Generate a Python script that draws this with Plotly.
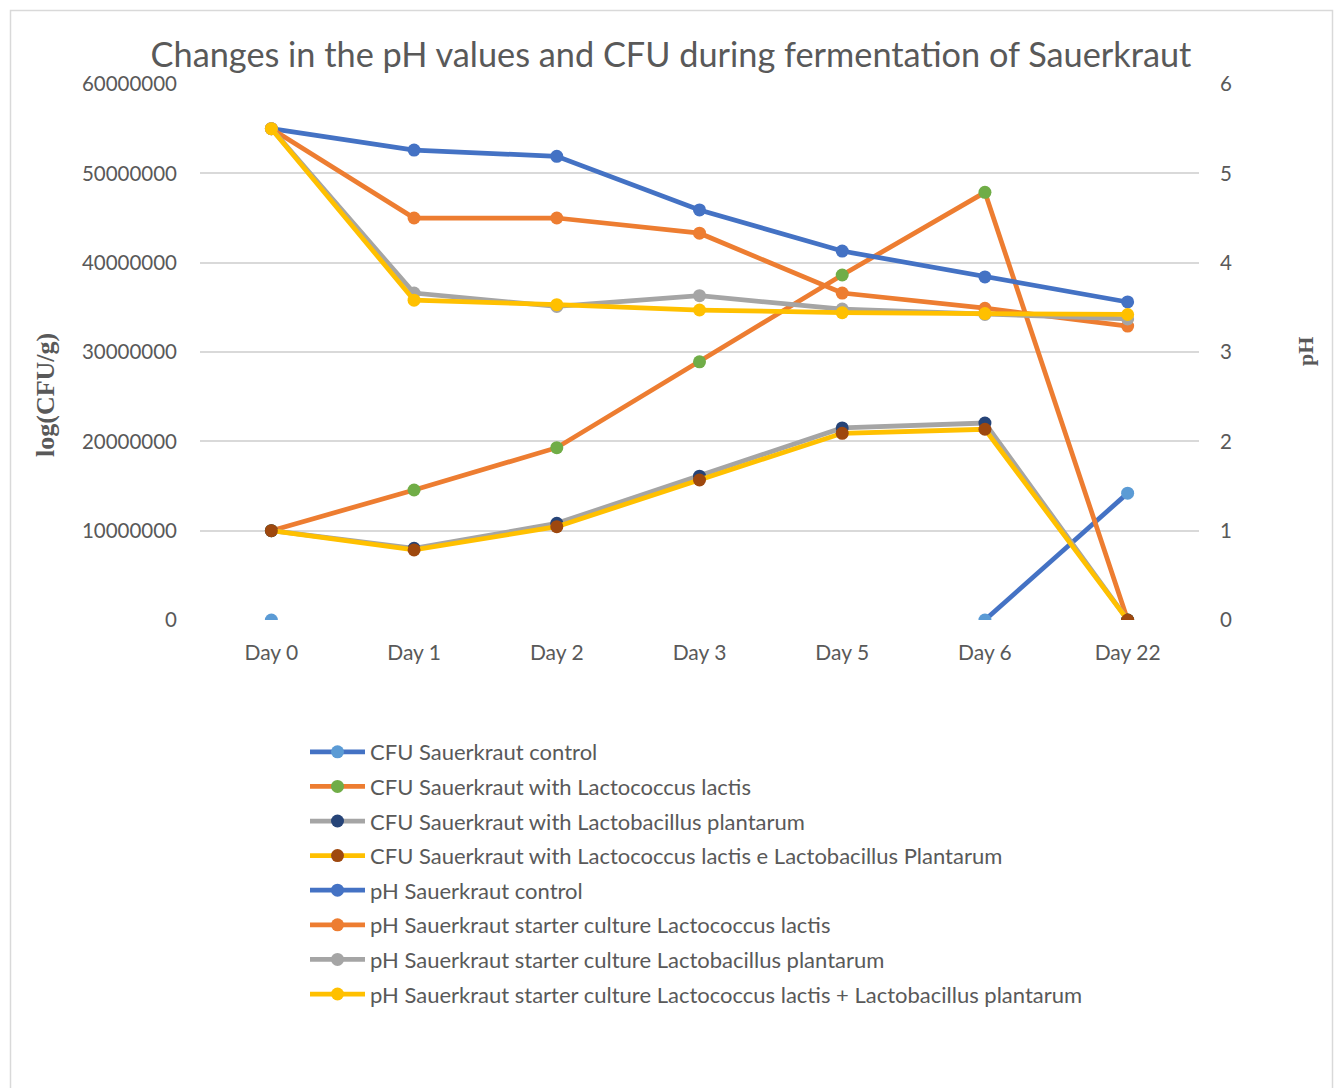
import plotly.graph_objects as go

# Sampling days
days = ["Day 0", "Day 1", "Day 2", "Day 3", "Day 5", "Day 6", "Day 22"]

# Colony forming units (left axis)
cfu_control = [0, None, None, None, None, 0, 14200000]
cfu_lactis = [10000000, 14550000, 19290000, 28900000, 38620000, 47870000, 0]
cfu_plantarum = [10000000, 8020000, 10820000, 16100000, 21500000, 22050000, 0]
cfu_mix = [10000000, 7840000, 10450000, 15670000, 20900000, 21350000, 0]

# pH readings (right axis)
ph_control = [5.5, 5.26, 5.19, 4.59, 4.13, 3.84, 3.56]
ph_lactis = [5.5, 4.5, 4.5, 4.33, 3.66, 3.49, 3.29]
ph_plantarum = [5.5, 3.66, 3.51, 3.63, 3.48, 3.42, 3.37]
ph_mix = [5.5, 3.58, 3.53, 3.47, 3.44, 3.43, 3.42]

cfu_ticks = [0, 10000000, 20000000, 30000000, 40000000, 50000000, 60000000]
ph_ticks = [0, 1, 2, 3, 4, 5, 6]

FONT = "Lato"
TEXT = "#595959"

series = [
    ("CFU Sauerkraut control", cfu_control, "y", "#4472C4", "#5B9BD5"),
    ("CFU Sauerkraut with Lactococcus lactis", cfu_lactis, "y", "#ED7D31", "#70AD47"),
    ("CFU Sauerkraut with Lactobacillus plantarum", cfu_plantarum, "y", "#A5A5A5", "#264478"),
    ("CFU Sauerkraut with Lactococcus lactis e Lactobacillus Plantarum", cfu_mix, "y", "#FFC000", "#9E480E"),
    ("pH Sauerkraut control", ph_control, "y2", "#4472C4", "#4472C4"),
    ("pH Sauerkraut starter culture Lactococcus lactis", ph_lactis, "y2", "#ED7D31", "#ED7D31"),
    ("pH Sauerkraut starter culture Lactobacillus plantarum", ph_plantarum, "y2", "#A5A5A5", "#A5A5A5"),
    ("pH Sauerkraut starter culture Lactococcus lactis + Lactobacillus plantarum", ph_mix, "y2", "#FFC000", "#FFC000"),
]

fig = go.Figure()
for i, (name, vals, axis, lc, mc) in enumerate(series):
    fig.add_trace(go.Scatter(
        x=days, y=vals, name=name, yaxis=axis, mode="lines+markers",
        line=dict(color=lc, width=4.75),
        marker=dict(color=mc, size=13, line=dict(width=0)),
        connectgaps=False, legendgroup=f"g{i}",
    ))

W, H = 1341, 1088
L, R, T, B = 200, 1199, 84, 620


def px_x(p):
    return (p - L) / (R - L)


def px_y(p):
    return (B - p) / (B - T)


fig.update_layout(
    width=W, height=H,
    margin=dict(l=L, r=W - R, t=T, b=H - B),
    paper_bgcolor="white", plot_bgcolor="white",
    font=dict(family=FONT, color=TEXT, size=21),
    title=dict(
        text="Changes in the pH values and CFU during fermentation of Sauerkraut",
        x=671 / W, xref="container", xanchor="center",
        y=1 - 55 / H, yref="container", yanchor="middle",
        font=dict(family=FONT, size=34.3, color=TEXT),
    ),
    xaxis=dict(
        type="category", categoryorder="array", categoryarray=days,
        range=[-0.5, len(days) - 0.5],
        showgrid=False, showline=False, zeroline=False, ticks="",
        tickfont=dict(size=21, color=TEXT), ticklabelstandoff=18,
    ),
    yaxis=dict(
        range=[0, 60000000], tickvals=cfu_ticks, tickformat="d",
        showgrid=True, gridcolor="#D9D9D9", gridwidth=1.5,
        zeroline=False, showline=False, ticks="",
        tickfont=dict(size=20.5, color=TEXT), ticklabelstandoff=22,
    ),
    yaxis2=dict(
        range=[0, 6], tickvals=ph_ticks, overlaying="y", side="right",
        showgrid=False, zeroline=False, showline=False, ticks="",
        tickfont=dict(size=20.5, color=TEXT), ticklabelstandoff=20,
    ),
    legend=dict(
        x=px_x(305), y=px_y(731), xanchor="left", yanchor="top",
        orientation="v", tracegroupgap=3, itemwidth=55,
        font=dict(family=FONT, size=22, color=TEXT),
        bgcolor="rgba(0,0,0,0)",
    ),
    showlegend=True,
    annotations=[
        dict(text="<b>log(CFU/g)</b>", xref="paper", yref="paper",
             x=px_x(45), y=px_y(395), showarrow=False, textangle=-90,
             xanchor="center", yanchor="middle",
             font=dict(family="Liberation Serif", size=26, color=TEXT)),
        dict(text="<b>pH</b>", xref="paper", yref="paper",
             x=px_x(1305), y=px_y(352), showarrow=False, textangle=-90,
             xanchor="center", yanchor="middle",
             font=dict(family="Liberation Serif", size=22, color=TEXT)),
    ],
    shapes=[
        dict(type="rect", xref="paper", yref="paper",
             x0=px_x(10.5), x1=px_x(1332.5), y0=px_y(1100), y1=px_y(10.5),
             line=dict(color="#D9D9D9", width=1.5), layer="below"),
    ],
)

fig.write_html("out.html")
